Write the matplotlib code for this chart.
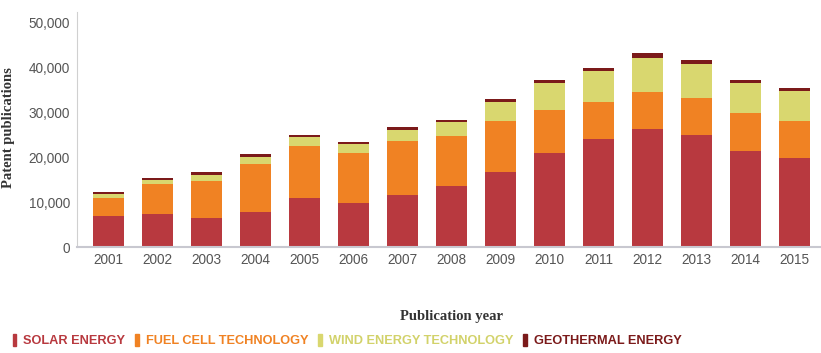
import numpy as np
import matplotlib
matplotlib.use("Agg")
from matplotlib import pyplot as plt
from matplotlib.patches import Rectangle

# (stack tops converted to segment sizes)
years = ["2001", "2002", "2003", "2004", "2005", "2006", "2007", "2008",
         "2009", "2010", "2011", "2012", "2013", "2014", "2015"]
solar = [7100, 7350, 6450, 7900, 10900, 9800, 11600, 13600,
         16850, 21100, 24200, 26350, 25100, 21500, 20000]
fuel_cell = [3950, 6700, 8250, 10600, 11750, 11300, 12150, 11250,
             11350, 9500, 8150, 8250, 8150, 8400, 8200]
wind = [950, 950, 1400, 1700, 1950, 1850, 2500, 3050,
        4150, 6000, 7000, 7650, 7500, 6700, 6600]
geothermal = [450, 500, 600, 500, 500, 500, 600, 500,
              650, 650, 650, 950, 900, 650, 650]

series_names = ["SOLAR ENERGY", "FUEL CELL TECHNOLOGY", "WIND ENERGY TECHNOLOGY", "GEOTHERMAL ENERGY"]
colors = ["#B8393F", "#F08223", "#D9D76F", "#7B1A1A"]
label_colors = ["#B8393F", "#F08223", "#D2D26A", "#7B1A1A"]

y_ticks = [0, 10000, 20000, 30000, 40000, 50000]

fig = plt.figure(figsize=(8.21, 3.53), dpi=100)
ax = fig.add_axes([0.0938, 0.299, 0.906, 0.667])

x = np.arange(len(years))
bottom = np.zeros(len(years))
for vals, c in zip([solar, fuel_cell, wind, geothermal], colors):
    ax.bar(x, vals, width=0.63, bottom=bottom, color=c, linewidth=0)
    bottom += np.array(vals)

ax.set_xlim(-0.65, 14.54)
ax.set_ylim(0, 52400)
ax.set_xticks(x)
ax.set_xticklabels(years)
ax.set_yticks(y_ticks)
ax.set_yticklabels(["{:,}".format(v) for v in y_ticks])
ax.tick_params(length=0, labelsize=9.8, labelcolor="#555555")
ax.tick_params(axis="y", pad=5)
ax.tick_params(axis="x", pad=4)
for lab in ax.get_xticklabels() + ax.get_yticklabels():
    lab.set_family(["Liberation Sans", "DejaVu Sans"])

for s in ["top", "right"]:
    ax.spines[s].set_visible(False)
ax.spines["left"].set_color("#D0D0D0")
ax.spines["bottom"].set_color("#C8C8D0")
ax.spines["bottom"].set_linewidth(1.5)

ax.set_ylabel("Patent publications", family=["Liberation Serif", "DejaVu Serif"],
              fontweight="bold", fontsize=10.5, color="#333333")
ax.yaxis.set_label_coords(-0.083, 0.51)
ax.set_xlabel("Publication year", family=["Liberation Serif", "DejaVu Serif"],
              fontweight="bold", fontsize=10.5, color="#333333")
ax.xaxis.set_label_coords(0.504, -0.265)

handles = [Rectangle((0, 0), 1, 1, color=c) for c in colors]
leg = fig.legend(handles, series_names, loc="center left", bbox_to_anchor=(0.009, 0.036),
                 ncol=4, frameon=False, handlelength=0.3, handleheight=1.1,
                 handletextpad=0.55, columnspacing=0.75, borderaxespad=0,
                 prop={"family": ["Liberation Sans", "DejaVu Sans"],
                       "weight": "bold", "size": 9.2})
for txt, c in zip(leg.get_texts(), label_colors):
    txt.set_color(c)

fig.savefig("out.png", dpi=100)
